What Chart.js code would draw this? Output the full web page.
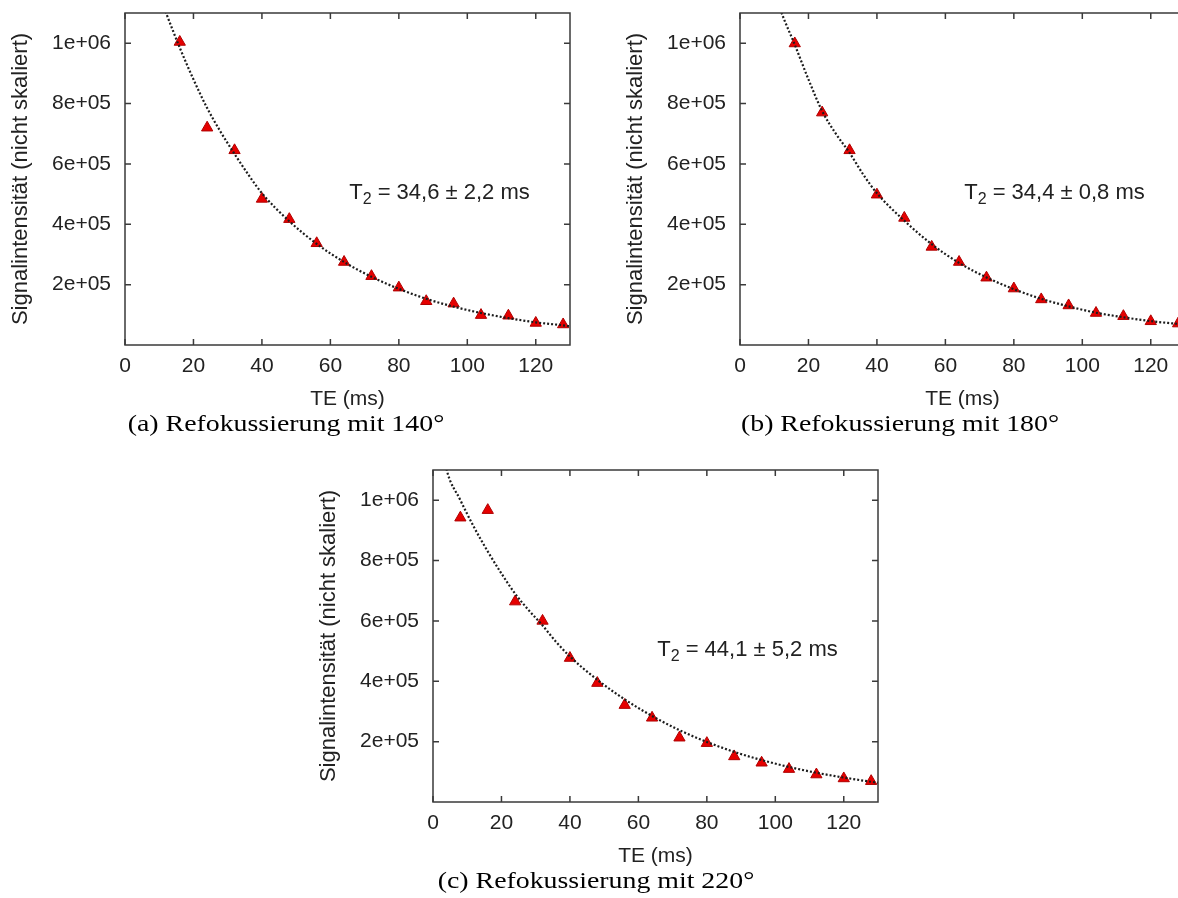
<!DOCTYPE html>
<html>
<head>
<meta charset="utf-8">
<script src="https://cdn.jsdelivr.net/npm/chart.js@4.4.1/dist/chart.umd.min.js"></script>
<style>
   html, body { margin: 0; padding: 0; background: #fff; overflow: hidden; width: 1178px; height: 898px; }
   .panel { position: absolute; width: 580px; height: 412px; }
   .caption { position: absolute; font-family: "Liberation Serif", serif; font-size: 24px; color: #000;
              white-space: nowrap; transform: translateX(-50%) scaleX(1.16); }
</style>
</head>
<body>
<div class="panel" style="left:0px; top:0px;"><canvas id="chartA"></canvas></div>
<div class="panel" style="left:615px; top:0px;"><canvas id="chartB"></canvas></div>
<div class="panel" style="left:308px; top:457px;"><canvas id="chartC"></canvas></div>
<div class="caption" style="left:286px; top:410px;">(a) Refokussierung mit 140°</div>
<div class="caption" style="left:900px; top:410px;">(b) Refokussierung mit 180°</div>
<div class="caption" style="left:596px; top:867px;">(c) Refokussierung mit 220°</div>
<script>

/* axes */
const xTicks = [0, 20, 40, 60, 80, 100, 120];
const yTicks = [200000, 400000, 600000, 800000, 1000000];
const yTickLabels = ["2e+05", "4e+05", "6e+05", "8e+05", "1e+06"];

/* (a) 140 deg */
const teA = [16, 24, 32, 40, 48, 56, 64, 72, 80, 88, 96, 104, 112, 120, 128];
const signalA = [1004000, 720000, 645000, 484000, 417000, 337000, 275000, 228000, 190000,
                 145000, 137000, 99000, 97000, 73000, 68000];
const fitTeA = [11, 12, 16, 20, 24, 28, 32, 36, 40, 48, 56, 64, 72, 80, 88, 96, 104, 112, 120, 128, 130];
const fitA = [1130000, 1100000, 985000, 880000, 785000, 705000, 633000, 565000, 503000, 410000,
              335000, 275000, 226000, 186000, 153000, 127000, 106000, 89000, 75000, 65000, 62000];

/* (b) 180 deg */
const teB = [16, 24, 32, 40, 48, 56, 64, 72, 80, 88, 96, 104, 112, 120, 128];
const signalB = [999000, 770000, 645000, 498000, 421000, 325000, 275000, 223000, 187000,
                 151000, 131000, 106000, 95500, 78500, 71000];
const fitTeB = [11, 12, 16, 20, 24, 28, 32, 36, 40, 48, 56, 64, 72, 80, 88, 96, 104, 112, 120, 128, 130];
const fitB = [1140000, 1105000, 995000, 880000, 775000, 700000, 637000, 565000, 503000, 412000,
              334000, 272000, 224000, 185000, 153000, 128000, 107000, 92000, 79000, 70000, 68000];

/* (c) 220 deg */
const teC = [8, 16, 24, 32, 40, 48, 56, 64, 72, 80, 88, 96, 104, 112, 120, 128];
const signalC = [942000, 967000, 664000, 600000, 477000, 394000, 321000, 279000, 213000, 195000,
                 151000, 130000, 109000, 91000, 78000, 69000];
const fitTeC = [3.5, 4, 8, 12, 16, 20, 24, 28, 32, 36, 40, 48, 56, 64, 72, 80, 88, 96, 104, 112, 120, 128, 130];
const fitC = [1130000, 1100000, 1000000, 910000, 830000, 757000, 690000, 635000, 585000, 530000, 482000,
              405000, 340000, 285000, 238000, 199000, 166000, 139000, 116000, 97000, 81000, 67000, 64000];

const t2Labels = ["34,6 \u00b1 2,2 ms", "34,4 \u00b1 0,8 ms", "44,1 \u00b1 5,2 ms"];

/* - - */
const FONT = "'Liberation Sans', Arial, sans-serif";
const INK = "#222";

function pairs(xs, ys) {
   return xs.map((x, i) => ({x: x, y: ys[i]}));
}

/* box round the plot with inward ticks, gnuplot style */
const framePlugin = {
   id: "frame",
   afterDatasetsDraw(chart) {
      const {ctx, chartArea: a, scales: {x, y}} = chart;
      ctx.save();
      ctx.strokeStyle = "#3a3a3a";
      ctx.lineWidth = 1.5;
      ctx.strokeRect(a.left, a.top, a.right - a.left, a.bottom - a.top);
      ctx.beginPath();
      for (const v of xTicks) {
         const px = x.getPixelForValue(v);
         ctx.moveTo(px, a.bottom); ctx.lineTo(px, a.bottom - 6);
         ctx.moveTo(px, a.top); ctx.lineTo(px, a.top + 6);
      }
      for (const v of yTicks) {
         const py = y.getPixelForValue(v);
         ctx.moveTo(a.left, py); ctx.lineTo(a.left + 6, py);
         ctx.moveTo(a.right, py); ctx.lineTo(a.right - 6, py);
      }
      ctx.stroke();
      ctx.restore();
   }
};

/* "T2 = ..." note, placed in data units */
const notePlugin = {
   id: "note",
   afterDraw(chart, args, opts) {
      const {ctx, scales: {x, y}} = chart;
      let px = x.getPixelForValue(65.5), py = y.getPixelForValue(505000);
      ctx.save();
      ctx.fillStyle = INK;
      ctx.textBaseline = "middle";
      ctx.font = "22px " + FONT;
      ctx.fillText("T", px, py);
      px += ctx.measureText("T").width;
      ctx.font = "16px " + FONT;
      ctx.fillText("2", px, py + 7);
      px += ctx.measureText("2").width;
      ctx.font = "22px " + FONT;
      ctx.fillText(" = " + opts.text, px, py);
      ctx.restore();
   }
};

function makeChart(id, te, signal, fitTe, fit, note) {
   const ctx = document.getElementById(id);
   const tickFont = {family: FONT, size: 21};
   const conf = {
      type: "scatter",
      data: {
         datasets: [
            {
               type: "line",
               data: pairs(fitTe, fit),
               borderColor: "#1c1c1c",
               borderWidth: 2.2,
               borderDash: [2, 2],
               pointRadius: 0,
               cubicInterpolationMode: "monotone",
               fill: false,
               order: 1
            },
            {
               data: pairs(te, signal),
               pointStyle: "triangle",
               pointRadius: 6.5,
               backgroundColor: "rgb(230,0,0)",
               borderColor: "rgb(175,0,0)",
               borderWidth: 1,
               order: 2
            }
         ]
      },
      options: {
         responsive: true,
         maintainAspectRatio: false,
         animation: false,
         events: [],
         layout: {padding: {top: 13, right: 10, left: 0, bottom: 0}},
         plugins: {
            legend: {display: false},
            tooltip: {enabled: false},
            note: {text: note}
         },
         scales: {
            x: {
               type: "linear",
               min: 0,
               max: 130,
               afterBuildTicks: (s) => { s.ticks = xTicks.map(v => ({value: v})); },
               afterFit: (s) => { s.height = 67; s.paddingLeft = 0; s.paddingRight = 0; },
               grid: {display: false, drawTicks: false},
               border: {display: false},
               ticks: {font: tickFont, color: INK, padding: 9, maxRotation: 0, autoSkip: false},
               title: {display: true, text: "TE (ms)", font: tickFont, color: INK, padding: 0}
            },
            y: {
               type: "linear",
               min: 0,
               max: 1100000,
               afterBuildTicks: (s) => { s.ticks = yTicks.map(v => ({value: v})); },
               afterFit: (s) => { s.width = 125; s.paddingTop = 0; s.paddingBottom = 0; },
               grid: {display: false, drawTicks: false},
               border: {display: false},
               ticks: {
                  font: tickFont, color: INK, padding: 14,
                  callback: (v) => yTickLabels[yTicks.indexOf(v)]
               },
               title: {
                  display: true, text: "Signalintensit\u00e4t (nicht skaliert)",
                  font: {family: FONT, size: 22}, color: INK, padding: {top: 8, bottom: 0}
               }
            }
         }
      },
      plugins: [framePlugin, notePlugin]
   };
   return new Chart(ctx, conf);
}

makeChart("chartA", teA, signalA, fitTeA, fitA, t2Labels[0]);
makeChart("chartB", teB, signalB, fitTeB, fitB, t2Labels[1]);
makeChart("chartC", teC, signalC, fitTeC, fitC, t2Labels[2]);
</script>
</body>
</html>
